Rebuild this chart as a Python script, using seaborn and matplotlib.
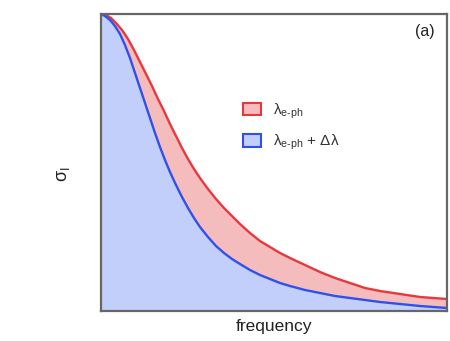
import matplotlib
matplotlib.use("Agg")
import matplotlib.pyplot as plt
import seaborn as sns
import numpy as np
import pandas as pd
from matplotlib.patches import Patch

# Data (arbitrary units, no ticks on the chart)
freq_red = [0, 5, 10, 15, 21, 27, 33, 39, 45, 51, 57, 63, 69, 75, 81, 87, 93, 99, 107, 115,
            123, 131, 139, 149, 159, 169, 179, 189, 204, 219, 234, 249, 264, 279, 299, 319, 346]
sigma_red = [297, 296, 293, 288, 281, 272, 261, 249, 237, 225, 212, 200, 187, 175, 163, 152, 142, 133, 122, 112,
             103, 95, 87, 78, 70, 64, 58, 53, 46, 39, 33, 28, 23, 20, 17, 14, 12]
freq_blue = [0, 4, 9, 14, 19, 24, 29, 34, 39, 44, 49, 54, 59, 64, 69, 75, 81, 87, 93, 99,
             107, 115, 123, 131, 139, 149, 159, 169, 179, 189, 204, 219, 234, 249, 264, 279, 299, 319, 346]
sigma_blue = [297, 295, 291, 285, 277, 266, 253, 238, 223, 208, 193, 178, 164, 151, 139, 126, 114, 103, 93, 84,
              74, 65, 58, 52, 47, 41, 36, 32, 28, 25, 21, 18, 15, 13, 11, 9, 7, 5, 3]

labels = [r"λ$_{\mathrm{e\text{-}ph}}$", r"λ$_{\mathrm{e\text{-}ph}}$ + Δλ"]

red_line = "#e8383d"
red_fill = "#f4bcbc"
blue_line = "#3050ee"
blue_fill = "#c2cffa"

sns.set_style("white")
plt.rcParams['font.family'] = ['Liberation Sans', 'DejaVu Sans']
plt.rcParams['mathtext.fontset'] = 'custom'
plt.rcParams['mathtext.rm'] = 'Liberation Sans'
plt.rcParams['mathtext.it'] = 'Liberation Sans:italic'

fig = plt.figure(figsize=(4.5, 3.41), dpi=100)
ax = fig.add_axes([101/450, 30/341, 346/450, 297/341])

df_red = pd.DataFrame({"freq": freq_red, "sigma": sigma_red})
df_blue = pd.DataFrame({"freq": freq_blue, "sigma": sigma_blue})

# common grid for the filled bands
grid = np.linspace(0, 346, 700)
r_i = np.interp(grid, freq_red, sigma_red)
b_i = np.interp(grid, freq_blue, sigma_blue)
ax.fill_between(grid, 0, b_i, color=blue_fill, linewidth=0)
ax.fill_between(grid, b_i, r_i, color=red_fill, linewidth=0)

sns.lineplot(data=df_red, x="freq", y="sigma", ax=ax, color=red_line, linewidth=1.7, sort=True)
sns.lineplot(data=df_blue, x="freq", y="sigma", ax=ax, color=blue_line, linewidth=1.7, sort=True)

ax.set_xlim(0, 346)
ax.set_ylim(0, 297)
ax.set_xticks([])
ax.set_yticks([])
for s in ax.spines.values():
    s.set_color("#666666")
    s.set_linewidth(1.6)

ax.set_xlabel("frequency", fontsize=12.5, color="#222222")
ax.xaxis.set_label_coords(0.5, -0.028)
ax.set_ylabel(r"σ$_{\mathrm{I}}$", fontsize=13, color="#222222")
ax.yaxis.set_label_coords(-0.085, 0.46)

ax.text(0.965, 0.94, "(a)", transform=ax.transAxes, ha="right", va="center", fontsize=11.5, color="#222222")

handles = [Patch(facecolor=red_fill, edgecolor=red_line, linewidth=1.5),
           Patch(facecolor=blue_fill, edgecolor=blue_line, linewidth=1.5)]
leg = ax.legend(handles, labels, loc="center left", bbox_to_anchor=(0.37, 0.62),
                frameon=False, fontsize=11, handlelength=1.2, handleheight=0.9,
                handletextpad=0.8, labelspacing=0.8)
for t in leg.get_texts():
    t.set_color("#333333")

fig.savefig("out.png", dpi=100)
